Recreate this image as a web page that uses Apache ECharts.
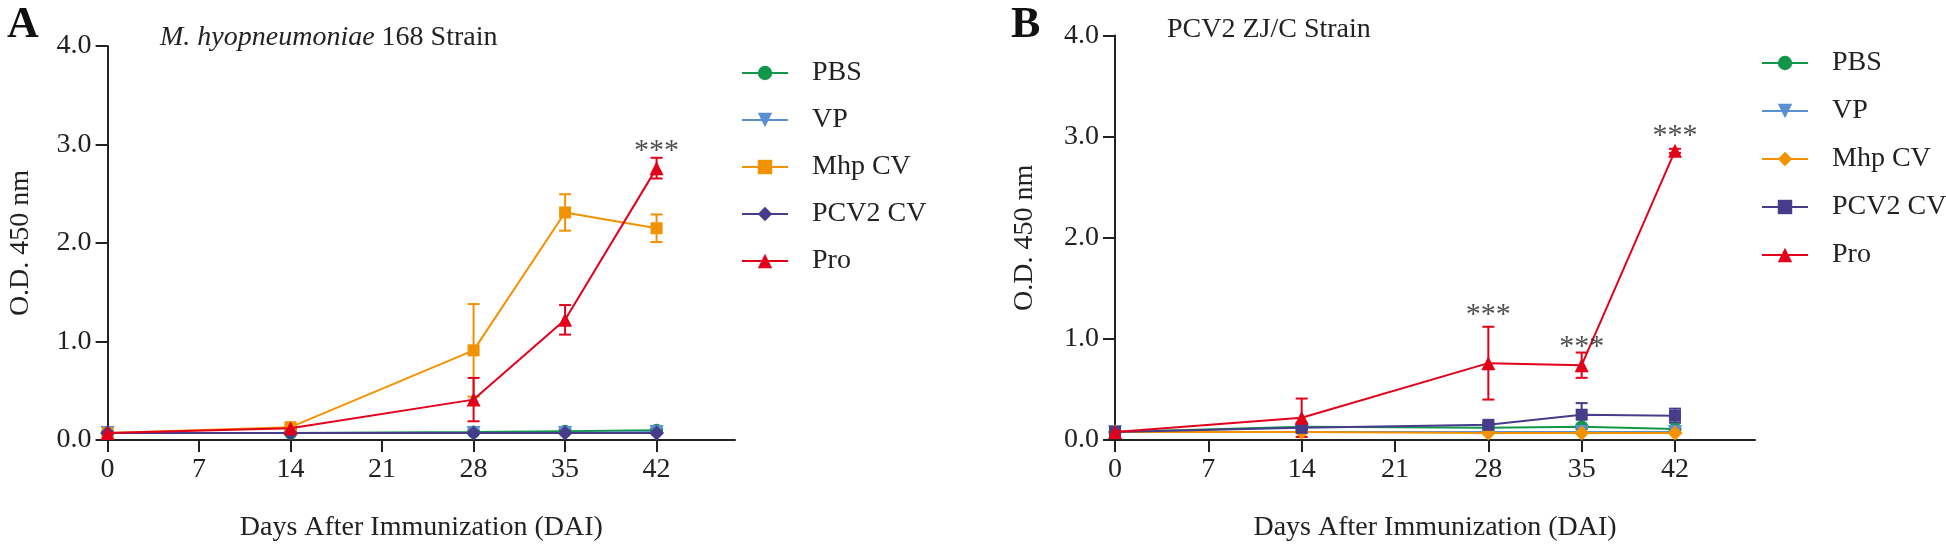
<!DOCTYPE html>
<html>
<head>
<meta charset="utf-8">
<script src="https://cdn.jsdelivr.net/npm/echarts@6/dist/echarts.min.js"></script>
<style>
html,body{margin:0;padding:0;background:#fff;}
#c{width:1946px;height:547px;}
</style>
</head>
<body>
<div id="c"></div>
<script>
// ---------- data ----------
const days = [0, 14, 28, 35, 42];
const xTickLabels = [0, 7, 14, 21, 28, 35, 42];
const yTickLabels = [0, 1, 2, 3, 4];
const groupNames = ['PBS', 'VP', 'Mhp CV', 'PCV2 CV', 'Pro'];

// Panel A: M. hyopneumoniae 168 Strain
const pbsA = [0.07, 0.07, 0.08, 0.09, 0.10];
const pbsA_sd = [0, 0, 0, 0.01, 0.01];
const vpA = [0.07, 0.07, 0.07, 0.07, 0.08];
const vpA_sd = [0, 0, 0, 0, 0];
const mhpA = [0.07, 0.13, 0.91, 2.31, 2.15];
const mhpA_sd = [0.01, 0.02, 0.47, 0.185, 0.14];
const pcv2A = [0.07, 0.07, 0.07, 0.07, 0.07];
const pcv2A_sd = [0, 0, 0, 0, 0];
const proA = [0.07, 0.12, 0.41, 1.22, 2.76];
const proA_sd = [0.01, 0.01, 0.22, 0.15, 0.105];
const starsA = [[42, 3.02]];

// Panel B: PCV2 ZJ/C Strain
const pbsB = [0.08, 0.13, 0.12, 0.13, 0.11];
const pbsB_sd = [0, 0, 0, 0.02, 0.02];
const vpB = [0.08, 0.08, 0.08, 0.08, 0.08];
const vpB_sd = [0, 0, 0, 0, 0];
const mhpB = [0.08, 0.08, 0.07, 0.07, 0.07];
const mhpB_sd = [0, 0, 0, 0, 0];
const pcv2B = [0.08, 0.12, 0.15, 0.25, 0.24];
const pcv2B_sd = [0, 0.02, 0.02, 0.115, 0.07];
const proB = [0.08, 0.22, 0.76, 0.74, 2.86];
const proB_sd = [0, 0.19, 0.36, 0.125, 0.02];
const starsB = [[28, 1.32], [35, 1.01], [42, 3.09]];

// ---------- styling ----------
const FONT = '"Liberation Serif", "Times New Roman", serif';
const colors = {
  'PBS': '#12964a',
  'VP': '#5b8fd4',
  'Mhp CV': '#f39200',
  'PCV2 CV': '#463d8a',
  'Pro': '#e3001b'
};
const symbolsA = {'PBS':'circle','VP':'triangle','Mhp CV':'rect','PCV2 CV':'diamond','Pro':'triangle'};
const symbolsB = {'PBS':'circle','VP':'triangle','Mhp CV':'diamond','PCV2 CV':'rect','Pro':'triangle'};
const sizes = {'circle':13,'triangle':14,'rect':12,'diamond':15};

const panelA = {PBS:[pbsA,pbsA_sd], VP:[vpA,vpA_sd], 'Mhp CV':[mhpA,mhpA_sd], 'PCV2 CV':[pcv2A,pcv2A_sd], Pro:[proA,proA_sd]};
const panelB = {PBS:[pbsB,pbsB_sd], VP:[vpB,vpB_sd], 'Mhp CV':[mhpB,mhpB_sd], 'PCV2 CV':[pcv2B,pcv2B_sd], Pro:[proB,proB_sd]};

function errRender(params, api) {
  const x = api.value(0), y = api.value(1), e = api.value(2);
  if (!e) return null;
  const top = api.coord([x, y + e]);
  const bot = api.coord([x, y - e]);
  const hw = 6;
  const st = {stroke: api.visual('color'), lineWidth: 2};
  return {type: 'group', children: [
    {type: 'line', shape: {x1: top[0], y1: top[1], x2: bot[0], y2: bot[1]}, style: st},
    {type: 'line', shape: {x1: top[0]-hw, y1: top[1], x2: top[0]+hw, y2: top[1]}, style: st},
    {type: 'line', shape: {x1: bot[0]-hw, y1: bot[1], x2: bot[0]+hw, y2: bot[1]}, style: st}
  ]};
}

const series = [];
function addPanel(prefix, panel, symbols, idx, stars) {
  groupNames.forEach((g, k) => {
    const vals = panel[g][0], sd = panel[g][1];
    const col = colors[g];
    series.push({
      type: 'custom', name: prefix + g + ' err', xAxisIndex: idx, yAxisIndex: idx,
      renderItem: errRender, itemStyle: {color: col}, z: 2 + k,
      data: days.map((d, i) => [d, vals[i], sd[i]]), silent: true
    });
  });
  groupNames.forEach((g, k) => {
    const vals = panel[g][0];
    const col = colors[g];
    const sym = symbols[g];
    series.push({
      type: 'line', name: prefix + g, xAxisIndex: idx, yAxisIndex: idx,
      data: days.map((d, i) => [d, vals[i]]),
      symbol: sym, symbolSize: sizes[sym], showAllSymbol: true,
      symbolRotate: (g === 'VP') ? 180 : 0,
      lineStyle: {color: col, width: 2}, itemStyle: {color: col, opacity: 1},
      z: 10 + k, animation: false
    });
  });
  series.push({
    type: 'scatter', name: prefix + 'stars', xAxisIndex: idx, yAxisIndex: idx,
    data: stars, symbolSize: 1, itemStyle: {color: 'rgba(0,0,0,0)'},
    label: {show: true, position: 'inside', offset: [0, 9], formatter: '***',
      fontFamily: FONT, fontSize: 30, color: '#222'},
    z: 20
  });
}
addPanel('A:', panelA, symbolsA, 0, starsA);
addPanel('B:', panelB, symbolsB, 1, starsB);

function xAxis(idx) {
  return {
    type: 'value', gridIndex: idx, min: 0, max: 48, interval: 7,
    name: 'Days After Immunization (DAI)', nameLocation: 'middle', nameGap: 74,
    nameTextStyle: {fontFamily: FONT, fontSize: 28, color: '#222'},
    axisLine: {show: true, onZero: false, lineStyle: {color: '#222', width: 2}},
    axisTick: {show: true, length: 12, lineStyle: {color: '#222', width: 2}, customValues: xTickLabels},
    axisLabel: {fontFamily: FONT, fontSize: 28, color: '#222', margin: 16, customValues: xTickLabels},
    splitLine: {show: false}
  };
}
function yAxis(idx, gap) {
  return {
    type: 'value', gridIndex: idx, min: 0, max: 4, interval: 1,
    name: 'O.D. 450 nm', nameLocation: 'middle', nameGap: gap,
    nameTextStyle: {fontFamily: FONT, fontSize: 28, color: '#222'},
    axisLine: {show: true, onZero: false, lineStyle: {color: '#222', width: 2}},
    axisTick: {show: true, length: 12, lineStyle: {color: '#222', width: 2}},
    axisLabel: {fontFamily: FONT, fontSize: 28, color: '#222', margin: 16,
      formatter: v => yTickLabels.indexOf(v) >= 0 ? v.toFixed(1) : ''},
    splitLine: {show: false}
  };
}

function legend(prefix, left, top, gap) {
  return {
    orient: 'vertical', left: left, top: top, itemWidth: 46, itemHeight: 18, itemGap: gap,
    data: groupNames.map(g => prefix + g),
    formatter: name => '{sp|}{t|' + name.slice(2) + '}',
    textStyle: {fontFamily: FONT, fontSize: 28, color: '#222',
      rich: {sp: {width: 19}, t: {fontFamily: FONT, fontSize: 28, color: '#222'}}},
    selectedMode: false
  };
}

const option = {
  backgroundColor: '#fff',
  animation: false,
  title: [
    {text: 'A', left: 2, top: -1, textStyle: {fontFamily: FONT, fontSize: 44, fontWeight: 'bold', color: '#111'}},
    {text: 'B', left: 1006, top: -1, textStyle: {fontFamily: FONT, fontSize: 44, fontWeight: 'bold', color: '#111'}},
    {text: '{i|M. hyopneumoniae} {n|168 Strain}', left: 155, top: 19,
      textStyle: {fontFamily: FONT, fontSize: 28, fontWeight: 'normal', color: '#222', rich: {
        i: {fontFamily: FONT, fontSize: 28, fontStyle: 'italic', fontWeight: 'normal', color: '#222'},
        n: {fontFamily: FONT, fontSize: 28, fontWeight: 'normal', color: '#222'}}}},
    {text: 'PCV2 ZJ/C Strain', left: 1162, top: 11,
      textStyle: {fontFamily: FONT, fontSize: 28, fontWeight: 'normal', color: '#222'}}
  ],
  grid: [
    {left: 107.6, top: 46, width: 627.4, height: 411.5},
    {left: 1115, top: 35.6, width: 640, height: 419.6}
  ],
  xAxis: [xAxis(0), xAxis(1)],
  yAxis: [yAxis(0, 73), yAxis(1, 76)],
  legend: [legend('A:', 736, 54, 19), legend('B:', 1756, 44, 20)],
  series: series
};

const chart = echarts.init(document.getElementById('c'), null, {renderer: 'canvas'});
chart.setOption(option);
</script>
</body>
</html>
